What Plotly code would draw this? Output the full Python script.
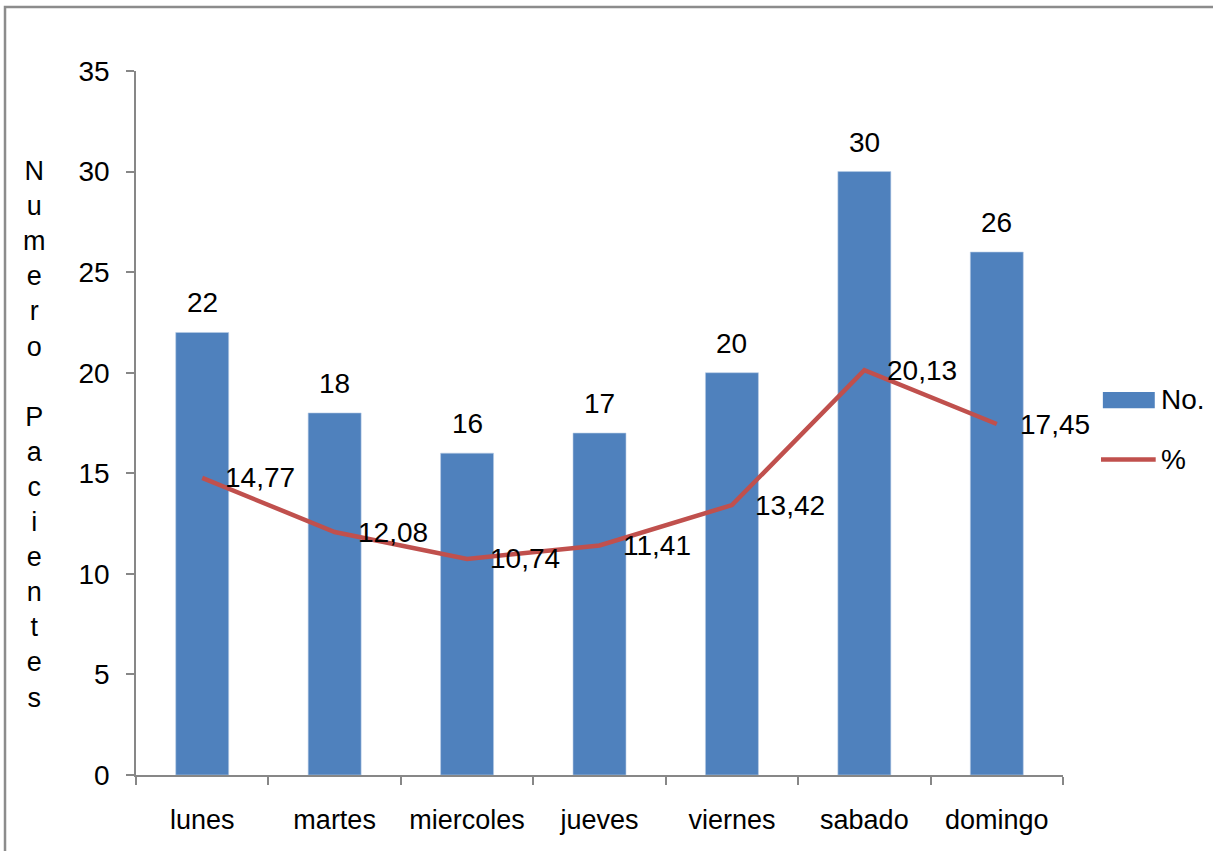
import plotly.graph_objects as go

# Pacientes atendidos por día de la semana
dias = ["lunes", "martes", "miercoles", "jueves", "viernes", "sabado", "domingo"]
pacientes = [22, 18, 16, 17, 20, 30, 26]
porcentaje = [14.77, 12.08, 10.74, 11.41, 13.42, 20.13, 17.45]
y_ticks = [0, 5, 10, 15, 20, 25, 30, 35]
titulo_y = "Numero Pacientes"

FONT = "Liberation Sans, Arial, sans-serif"
AZUL = "#4F81BD"
ROJO = "#C0504D"
GRIS = "#878787"

fig = go.Figure()
fig.add_trace(go.Bar(
    x=dias, y=pacientes, name="No.",
    marker=dict(color=AZUL, line=dict(color="#B9CDE5", width=0.6)),
    width=0.4, showlegend=False,
))
fig.add_trace(go.Scatter(
    x=dias, y=porcentaje, name="%", mode="lines",
    line=dict(color=ROJO, width=4.5), showlegend=False,
))

anotaciones = []
# etiquetas de las barras
for d, v in zip(dias, pacientes):
    anotaciones.append(dict(x=d, y=v, xref="x", yref="y", text=str(v),
                            showarrow=False, yanchor="bottom", yshift=12,
                            font=dict(size=28, color="black", family=FONT)))
# etiquetas de la línea de porcentaje (coma decimal)
for d, p in zip(dias, porcentaje):
    anotaciones.append(dict(x=d, y=p, xref="x", yref="y",
                            text=f"{p:.2f}".replace(".", ","),
                            showarrow=False, xanchor="left", yanchor="middle",
                            xshift=21,
                            font=dict(size=28, color="black", family=FONT)))
# título vertical del eje Y, una letra por línea
anotaciones.append(dict(x=-0.109, y=0.484, xref="paper", yref="paper",
                        text="<br>".join(c if c != " " else "" for c in titulo_y),
                        showarrow=False, xanchor="center", yanchor="middle",
                        align="center",
                        font=dict(size=27, color="black", family=FONT)))
# leyenda
anotaciones.append(dict(x=1.104, y=0.533, xref="paper", yref="paper", text="No.",
                        showarrow=False, xanchor="left", yanchor="middle",
                        font=dict(size=28, color="black", family=FONT)))
anotaciones.append(dict(x=1.104, y=0.448, xref="paper", yref="paper", text="%",
                        showarrow=False, xanchor="left", yanchor="middle",
                        font=dict(size=28, color="black", family=FONT)))

formas = [
    # marco exterior del gráfico
    dict(type="rect", xref="paper", yref="paper",
         x0=-0.1413, x1=1.2, y0=-0.15, y1=1.0909,
         line=dict(color="#8C8C8C", width=2.5), layer="below"),
    # muestra de la leyenda: barra
    dict(type="rect", xref="paper", yref="paper",
         x0=1.043, x1=1.099, y0=0.521, y1=0.544,
         fillcolor=AZUL, line=dict(width=0)),
    # muestra de la leyenda: línea
    dict(type="line", xref="paper", yref="paper",
         x0=1.041, x1=1.100, y0=0.448, y1=0.448,
         line=dict(color=ROJO, width=4.5)),
]

fig.update_layout(
    width=1213, height=851,
    margin=dict(l=136, r=150, t=71, b=76),
    paper_bgcolor="white", plot_bgcolor="white",
    font=dict(family=FONT, size=28, color="black"),
    annotations=anotaciones, shapes=formas,
    showlegend=False,
)
fig.update_xaxes(
    type="category", range=[-0.5, len(dias) - 0.5],
    showline=True, linecolor=GRIS, linewidth=1.5,
    ticks="outside", ticklen=8, tickcolor=GRIS, tickwidth=1.5,
    tickson="boundaries", showgrid=False,
    ticklabelstandoff=20,
    tickfont=dict(size=27, family=FONT, color="black"),
)
fig.update_yaxes(
    range=[0, 35], tickvals=y_ticks, showline=True, linecolor=GRIS, linewidth=1.5,
    ticks="outside", ticklen=8, tickcolor=GRIS, tickwidth=1.5,
    showgrid=False, zeroline=False, ticklabelstandoff=11,
    tickfont=dict(size=28, family=FONT, color="black"),
)

fig.write_html("out.html")
